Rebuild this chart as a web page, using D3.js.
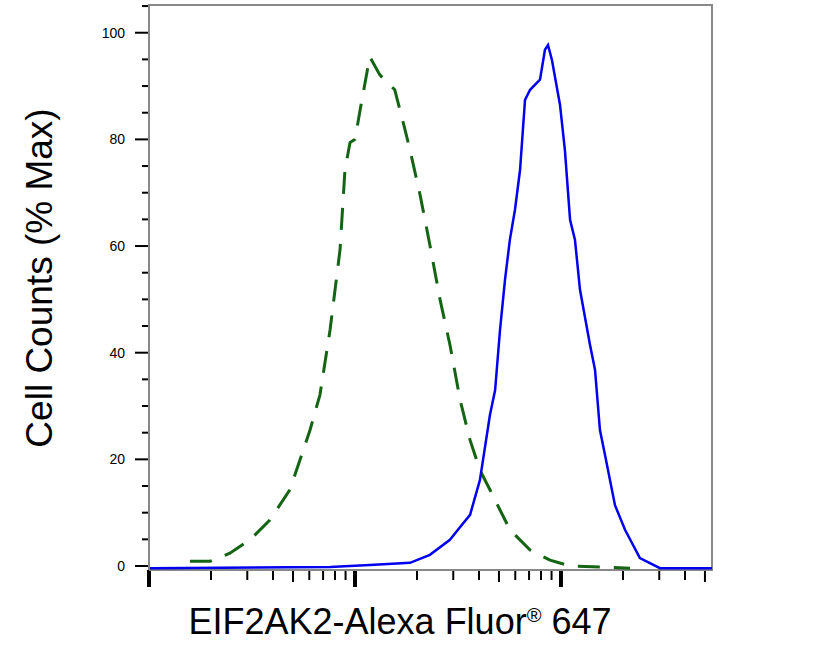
<!DOCTYPE html><html><head><script src="https://cdn.jsdelivr.net/npm/d3@7"></script>
<style>body{margin:0;background:#fff}</style></head><body><svg id="c" width="818" height="652"></svg>
<script>
const isoX=[15.8,19.8,24.7,30.9,38.6,48.3,60.5,67.6,75.7,84.6,89.4,94.6,100,106,118,132,156,175,185,207,231,259,289,324,362,404,452,506,565,708,885,1107,2163];
const isoY=[0.9,0.9,2.4,4.9,8.6,14.3,25.5,32.1,44.3,59.3,74.3,79.4,80,85.6,95.5,92.1,89.3,81.8,78,69.6,60.2,49.9,41.5,31.1,23.6,18,14.3,10.5,6.8,3,1.1,0,-0.4];
const abX=[10.1,75.7,118,185,231,289,324,362,404,452,479,506,535,565,598,633,669,708,791,836,865,904,989,1045,1107,1169,1237,1383,1463,1546,1636,1829,2046,2417,3025,5410];
const abY=[-0.4,-0.2,0.2,0.6,2.1,4.9,7.3,9.6,16.1,28.3,33,44.3,53.7,61.2,66.8,74.3,87.4,89.3,91.2,96.8,97.7,94.9,86.5,78,64.9,61.2,51.8,41.5,36.8,25.5,20.8,11.4,6.8,1.5,-0.4,-0.4];
const yTicks=[0,20,40,60,80,100];
const svg=d3.select("#c");
const L=149,R=712,T=5,B=570;
const x=d3.scaleLog().domain([10,5410]).range([L,R]);
const y=d3.scaleLinear().domain([-0.75,105.2]).range([B,T]);
const g=svg.append("g");
const minor=d3.range(0,106,5);
g.selectAll(".ym").data(minor).join("line").attr("x1",d=>yTicks.includes(d)?L-14:L-7).attr("x2",L).attr("y1",d=>y(d)).attr("y2",d=>y(d)).attr("stroke","#000").attr("stroke-width",2);
g.selectAll(".yl").data(yTicks).join("text").attr("x",L-24).attr("y",d=>y(d)+5).attr("text-anchor","end").attr("font-family","Liberation Sans, Arial").attr("font-size",14).text(d=>d);
const xt=[];for(let e=1;e<=3;e++)for(let k=1;k<10;k++){const v=k*Math.pow(10,e);if(v<=5410)xt.push(v);}
const kOf=d=>d/Math.pow(10,Math.floor(Math.log10(d)+1e-9));
g.selectAll(".xm").data(xt).join("line").attr("x1",d=>x(d)).attr("x2",d=>x(d)).attr("y1",B).attr("y2",d=>Math.abs(kOf(d)-1)<1e-6?B+17:(Math.abs(kOf(d)-5)<1e-6?B+12:B+10)).attr("stroke","#000").attr("stroke-width",d=>Math.abs(kOf(d)-1)<1e-6?4:2);
svg.append("path").attr("d",`M${L},${B}V${T}H${R}V${B}H${L}`).attr("fill","none").attr("stroke","#888").attr("stroke-width",2);
const line=d3.line().x(d=>x(d[0])).y(d=>y(d[1]));
svg.append("path").datum(isoX.map((v,i)=>[v,isoY[i]])).attr("d",line).attr("fill","none").attr("stroke","#136413").attr("stroke-width",3).attr("stroke-dasharray","22,14");
svg.append("path").datum(abX.map((v,i)=>[v,abY[i]])).attr("d",line).attr("fill","none").attr("stroke","#0000ee").attr("stroke-width",2.5);
svg.append("text").attr("transform","translate(52,278) rotate(-90)").attr("text-anchor","middle").attr("font-family","Liberation Sans, Arial").attr("font-size",37).text("Cell Counts (% Max)");
const xl=svg.append("text").attr("x",400).attr("y",634).attr("text-anchor","middle").attr("font-family","Liberation Sans, Arial").attr("font-size",36);
xl.append("tspan").text("EIF2AK2-Alexa Fluor");xl.append("tspan").attr("font-size",20).attr("dy",-12).text("®");xl.append("tspan").attr("dy",12).text(" 647");
</script></body></html>
